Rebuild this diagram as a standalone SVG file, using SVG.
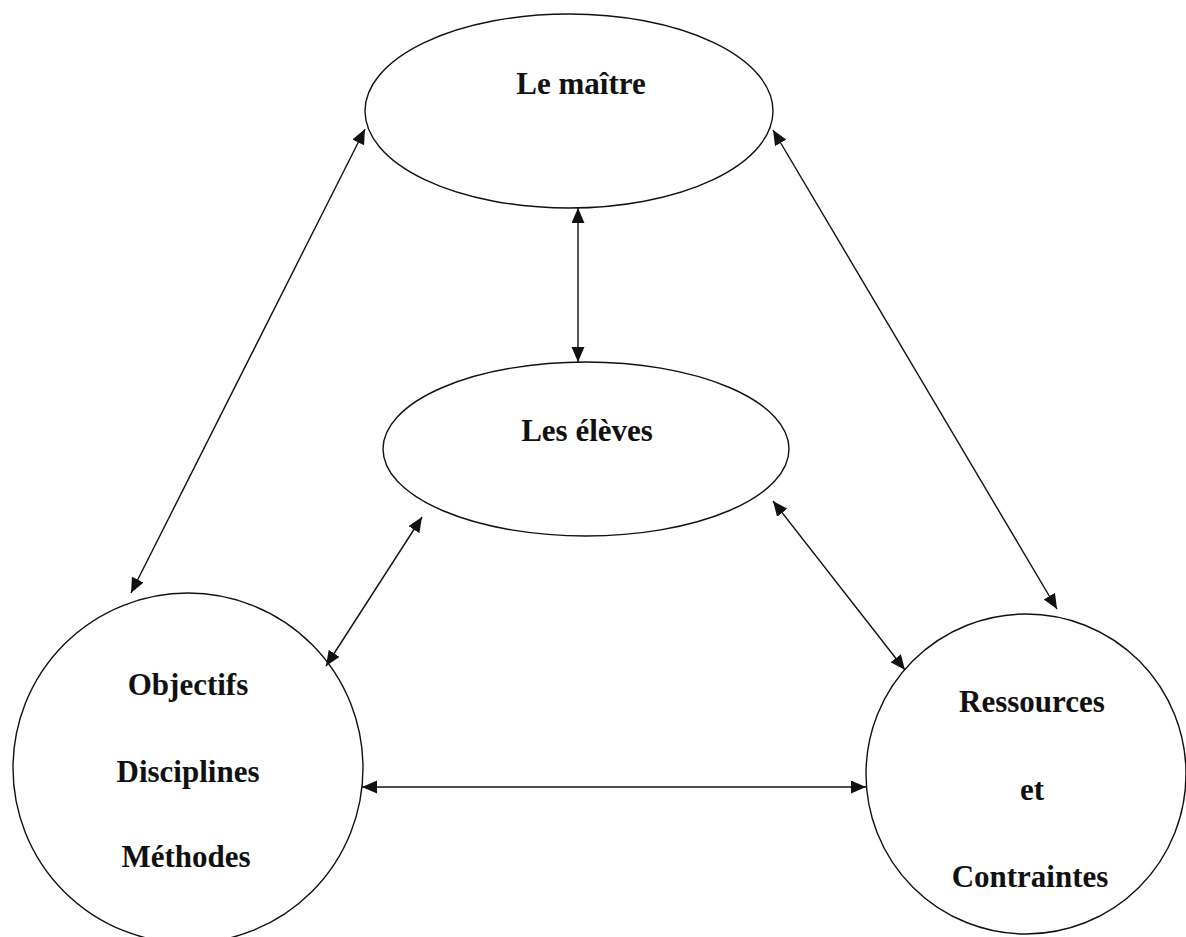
<svg xmlns="http://www.w3.org/2000/svg" width="1186" height="937" viewBox="0 0 1186 937">
  <style>
    .node { fill: #ffffff; stroke: #111111; stroke-width: 1.4; }
    .label { font-family: "Liberation Serif", "Times New Roman", serif; font-weight: bold; font-size: 31px; fill: #111111; text-anchor: middle; }
    .link { stroke: #111111; stroke-width: 1.4; fill: none; marker-start: url(#head); marker-end: url(#head); }
  </style>
  <defs>
    <marker id="head" markerUnits="userSpaceOnUse" markerWidth="16" markerHeight="14" refX="15" refY="6.5" orient="auto-start-reverse">
      <path d="M0,0 L15,6.5 L0,13 z" fill="#111111"/>
    </marker>
  </defs>
  <rect width="1186" height="937" fill="#ffffff"/>

  <g id="maitre">
    <ellipse class="node" cx="569" cy="111" rx="204" ry="97"/>
    <text class="label" x="581" y="94">Le maître</text>
  </g>

  <g id="eleves">
    <ellipse class="node" cx="586" cy="449" rx="203" ry="87"/>
    <text class="label" x="587" y="441">Les élèves</text>
  </g>

  <g id="objectifs">
    <circle class="node" cx="188" cy="768" r="175"/>
    <text class="label" x="188" y="695">Objectifs</text>
    <text class="label" x="188" y="782">Disciplines</text>
    <text class="label" x="186" y="867">Méthodes</text>
  </g>

  <g id="ressources">
    <circle class="node" cx="1026" cy="774" r="160"/>
    <text class="label" x="1032" y="712">Ressources</text>
    <text class="label" x="1032" y="800">et</text>
    <text class="label" x="1030" y="887">Contraintes</text>
  </g>

  <g id="connectors">
    <line class="link" x1="365" y1="129" x2="131" y2="593"/>
    <line class="link" x1="773" y1="130" x2="1057" y2="609"/>
    <line class="link" x1="578" y1="208" x2="578" y2="362"/>
    <line class="link" x1="422" y1="517" x2="326" y2="666"/>
    <line class="link" x1="773" y1="501" x2="905" y2="670"/>
    <line class="link" x1="362" y1="787" x2="866" y2="787"/>
  </g>
</svg>
